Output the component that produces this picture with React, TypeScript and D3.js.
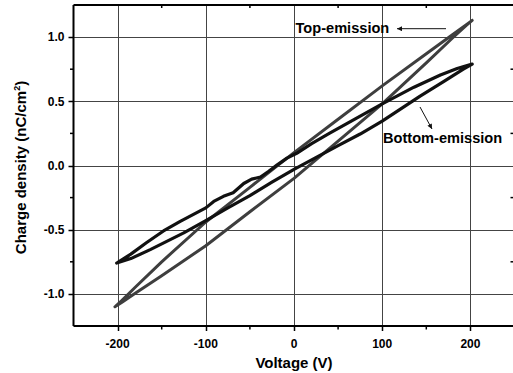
import React from "react";
import { scaleLinear, line, curveLinear } from "d3";

// Q-V hysteresis loops: [voltage V, charge nC/cm2]
const topEmissionSweepDown: [number, number][] = [
  [202, 1.13], [195, 1.095], [180, 1.02], [150, 0.87], [100, 0.62], [50, 0.36],
  [0, 0.1], [-50, -0.17], [-100, -0.44], [-150, -0.75], [-180, -0.948],
  [-195, -1.05], [-203, -1.1],
];
const topEmissionSweepUp: [number, number][] = [
  [-203, -1.1], [-195, -1.065], [-180, -0.995], [-150, -0.858], [-100, -0.625],
  [-50, -0.36], [0, -0.1], [50, 0.19], [100, 0.48], [150, 0.8], [180, 0.995],
  [195, 1.09], [202, 1.13],
];
const bottomEmissionSweepDown: [number, number][] = [
  [202, 0.79], [185, 0.755], [166, 0.705], [136, 0.61], [100, 0.48], [70, 0.365],
  [40, 0.25], [20, 0.17], [3, 0.095], [-8, 0.057], [-19, 0.005], [-29, -0.047],
  [-38, -0.09], [-48, -0.106], [-57, -0.14], [-69, -0.212], [-80, -0.24],
  [-91, -0.28], [-100, -0.33], [-129, -0.435], [-148, -0.51], [-167, -0.6],
  [-185, -0.69], [-201, -0.76],
];
const bottomEmissionSweepUp: [number, number][] = [
  [-201, -0.76], [-185, -0.725], [-163, -0.655], [-125, -0.525], [-100, -0.43],
  [-75, -0.33], [-50, -0.235], [-25, -0.13], [0, -0.03], [50, 0.155], [75, 0.245],
  [100, 0.345], [143, 0.54], [170, 0.655], [192, 0.75], [202, 0.79],
];

const xTicks = [-200, -100, 0, 100, 200];
const xMinorTicks = [-150, -50, 50, 150];
const yTicks = [-1.0, -0.5, 0.0, 0.5, 1.0];
const yMinorTicks = [-0.75, -0.25, 0.25, 0.75];

const W = 513;
const H = 373;
const left = 73.5;
const right = 514.5;
const top = 5;
const bottom = 326;
const FONT = "'Liberation Sans', Arial, sans-serif";

export default function App() {
  const x = scaleLinear().domain([-250, 250]).range([left, right]);
  const y = scaleLinear().domain([-1.25, 1.25]).range([bottom, top]);
  const px = (v: number) => Math.round(v) + 0.5;

  const path = line<[number, number]>()
    .x((d) => x(d[0]))
    .y((d) => y(d[1]))
    .curve(curveLinear);

  const topLoop = path([...topEmissionSweepDown, ...topEmissionSweepUp.slice(1)]) ?? "";
  const bottomLoop = path([...bottomEmissionSweepDown, ...bottomEmissionSweepUp.slice(1)]) ?? "";

  return (
    <svg
      width={W}
      height={H}
      style={{ position: "absolute", left: 0, top: 0, background: "#fff" }}
      fontFamily={FONT}
    >
      <defs>
        <marker id="arr" viewBox="0 0 10 10" refX="10" refY="5" markerWidth="7" markerHeight="5" orient="auto">
          <path d="M0,0 L10,5 L0,10 z" fill="#111" />
        </marker>
      </defs>

      {/* grid */}
      <g stroke="#444" strokeWidth={1} shapeRendering="crispEdges">
        {xTicks.map((t) => (
          <line key={"gx" + t} x1={px(x(t))} x2={px(x(t))} y1={top} y2={bottom} />
        ))}
        {yTicks.map((t) => (
          <line key={"gy" + t} x1={left} x2={right} y1={px(y(t))} y2={px(y(t))} />
        ))}
      </g>

      {/* loops */}
      <path d={topLoop} fill="none" stroke="#3e3e3e" strokeWidth={3} strokeLinejoin="round" strokeLinecap="round" />
      <path d={bottomLoop} fill="none" stroke="#111" strokeWidth={3.2} strokeLinejoin="round" strokeLinecap="round" />

      {/* frame */}
      <g stroke="#000" strokeWidth={2}>
        <line x1={left} x2={right} y1={top} y2={top} />
        <line x1={left} x2={right} y1={bottom} y2={bottom} />
        <line x1={left} x2={left} y1={top} y2={bottom} />
        <line x1={right} x2={right} y1={top} y2={bottom} />
      </g>

      {/* ticks */}
      <g stroke="#000" strokeWidth={1.5}>
        {xTicks.map((t) => (
          <line key={"tx" + t} x1={px(x(t))} x2={px(x(t))} y1={bottom} y2={bottom + 5} />
        ))}
        {xMinorTicks.map((t) => (
          <g key={"mx" + t}>
            <line x1={x(t)} x2={x(t)} y1={bottom} y2={bottom + 3.5} />
            <line x1={x(t)} x2={x(t)} y1={top} y2={top + 3} />
          </g>
        ))}
        {yTicks.map((t) => (
          <line key={"ty" + t} x1={left - 5} x2={left} y1={px(y(t))} y2={px(y(t))} />
        ))}
        {yMinorTicks.map((t) => (
          <g key={"my" + t}>
            <line x1={left - 3.5} x2={left} y1={y(t)} y2={y(t)} />
            <line x1={right - 4} x2={right} y1={y(t)} y2={y(t)} />
          </g>
        ))}
      </g>

      {/* tick labels */}
      <g fontSize={12} fontWeight="bold" fill="#000">
        {xTicks.map((t) => (
          <text key={"lx" + t} x={x(t)} y={348} textAnchor="middle">
            {t}
          </text>
        ))}
        {yTicks.map((t) => (
          <text key={"ly" + t} x={64.5} y={y(t)} dy="0.35em" textAnchor="end">
            {t.toFixed(1)}
          </text>
        ))}
      </g>

      {/* axis titles */}
      <text x={(left + right) / 2} y={368} textAnchor="middle" fontSize={15} fontWeight="bold">
        Voltage (V)
      </text>
      <text
        transform={`translate(26,${(top + bottom) / 2 + 2}) rotate(-90)`}
        textAnchor="middle"
        fontSize={15}
        fontWeight="bold"
      >
        Charge density (nC/cm
        <tspan dy={-6} fontSize={9}>2</tspan>
        <tspan dy={6}>)</tspan>
      </text>

      {/* annotations */}
      <text x={295.5} y={33} fontSize={14.6} fontWeight="bold">
        Top-emission
      </text>
      <line x1={446} y1={28.7} x2={397} y2={28.7} stroke="#111" strokeWidth={1} markerEnd="url(#arr)" />
      <text x={383} y={142.7} fontSize={14.6} fontWeight="bold">
        Bottom-emission
      </text>
      <line x1={420} y1={107} x2={432} y2={129} stroke="#111" strokeWidth={1} markerEnd="url(#arr)" />
    </svg>
  );
}
